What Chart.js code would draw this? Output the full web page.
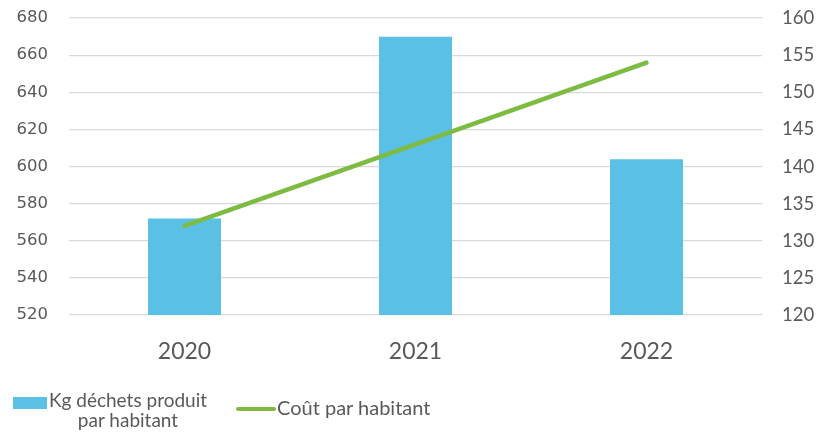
<!DOCTYPE html>
<html>
<head>
<meta charset="utf-8">
<script src="https://cdn.jsdelivr.net/npm/chart.js@4/dist/chart.umd.min.js"></script>
<style>
  html, body { margin: 0; padding: 0; background: #fff; }
  #wrap { position: relative; width: 819px; height: 433px; overflow: hidden; }
  #chart { position: absolute; left: 0; top: -13px; }
  #legend { position: absolute; left: 0; top: 0; width: 819px; height: 433px; pointer-events: none;
    font-family: "Lato", "Open Sans", sans-serif; font-size: 19px; color: #595959; }
  .sw-bar { position: absolute; left: 13px; top: 397px; width: 34px; height: 12px; background: #5BC0E5; }
  .lbl-bar { position: absolute; left: 46px; top: 390px; width: 164px; text-align: center; line-height: 20px; }
  .sw-line { position: absolute; left: 236px; top: 407px; width: 40px; height: 4px; border-radius: 2px; background: #7DBB42; }
  .lbl-line { position: absolute; left: 277px; top: 396px; line-height: 22px; font-size: 20px; }
</style>
</head>
<body>
<div id="wrap">
  <canvas id="chart" width="819" height="446"></canvas>
  <div id="legend">
    <div class="sw-bar"></div>
    <div class="lbl-bar">Kg déchets produit<br>par habitant</div>
    <div class="sw-line"></div>
    <div class="lbl-line">Coût par habitant</div>
  </div>
</div>
<script>
// données
const years = ['2020', '2021', '2022']
const dechetsKg = [572, 670, 604]
const coutHabitant = [132, 143, 154]

const textColor = '#595959'
const gridColor = '#d9d9d9'

const ctx = document.getElementById('chart').getContext('2d')
new Chart(ctx, {
  data: {
    labels: years,
    datasets: [
      {
        type: 'line',
        label: 'Coût par habitant',
        data: coutHabitant,
        yAxisID: 'y1',
        borderColor: '#7DBB42',
        borderWidth: 4.5,
        borderCapStyle: 'round',
        pointRadius: 0,
        tension: 0,
        order: 0
      },
      {
        type: 'bar',
        label: 'Kg déchets produit par habitant',
        data: dechetsKg,
        yAxisID: 'y',
        backgroundColor: '#5BC0E5',
        categoryPercentage: 1,
        barPercentage: 0.316,
        order: 1
      }
    ]
  },
  options: {
    responsive: false,
    animation: false,
    layout: { padding: { top: 4, left: 0, right: 0, bottom: 0 } },
    plugins: { legend: { display: false }, tooltip: { enabled: false } },
    scales: {
      x: {
        grid: { display: false, drawTicks: false },
        border: { display: false },
        ticks: { color: textColor, padding: 23, font: { family: 'Lato, "Open Sans", sans-serif', size: 23 } },
        afterFit: (s) => { s.height = 118 }
      },
      y: {
        position: 'left',
        min: 520,
        max: 680,
        grid: { color: gridColor, lineWidth: 1.3, drawTicks: false },
        border: { display: false },
        ticks: { stepSize: 20, color: textColor, padding: 21, font: { family: '"DejaVu Sans", sans-serif', size: 16.5 } },
        afterFit: (s) => { s.width = 69 }
      },
      y1: {
        position: 'right',
        min: 120,
        max: 160,
        grid: { display: false, drawTicks: false },
        border: { display: false },
        ticks: { stepSize: 5, color: textColor, padding: 20, font: { family: 'Lato, "Open Sans", sans-serif', size: 18.5 } },
        afterFit: (s) => { s.width = 57 }
      }
    }
  }
})
</script>
</body>
</html>
